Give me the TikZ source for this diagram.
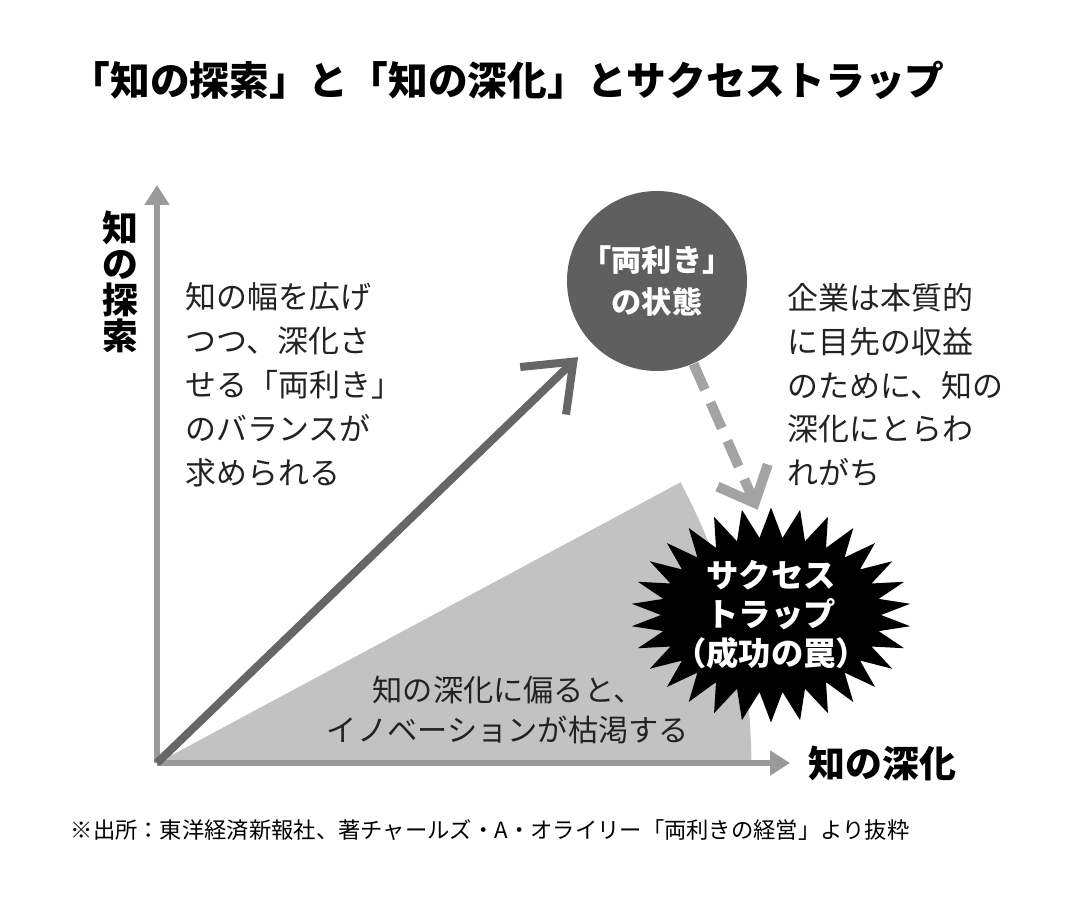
\documentclass[tikz,border=0pt]{standalone}
\usepackage{fontspec}
\newfontfamily\jp{Noto Sans CJK JP}
\usetikzlibrary{arrows.meta,shapes.symbols}
\definecolor{axisgray}{HTML}{9A9A9A}
\definecolor{arrowgray}{HTML}{666666}
\definecolor{ballgray}{HTML}{5F5F5F}
\definecolor{wedgegray}{HTML}{C2C2C2}
\definecolor{dashgray}{HTML}{A3A3A3}
\definecolor{inkgray}{HTML}{222222}
\begin{document}
\begin{tikzpicture}[
  axis/.style={line width=0.06cm, axisgray, -{Triangle[length=0.2cm,width=0.24cm]}},
  body/.style={text=inkgray, inner sep=0pt, font=\jp\fontsize{8.8}{12.5}\selectfont},
]
\useasboundingbox[fill=white] (-1.57,-1.37) rectangle (9.23,7.63);
\coordinate (O) at (0,0);
\coordinate (xend) at (6.33,0);
\coordinate (yend) at (0,5.78);
% shaded area
\fill[wedgegray] (O) -- (28.2:5.94) arc[start angle=28.2, end angle=0, radius=5.97] -- cycle;
\draw[axis] (O) -- (xend);
\draw[axis] (O) -- (yend);
\node[anchor=west, inner sep=0pt, font=\jp\bfseries\fontsize{10.5}{12}\selectfont] (xlab) at (6.51,0) {知の深化};
\node[align=center, inner sep=0pt, font=\jp\bfseries\fontsize{10.2}{10.3}\selectfont] (ylab) at (-0.37,4.81) {知\\の\\探\\索};
% balance
\node[circle, fill=ballgray, minimum size=1.8cm, inner sep=0pt, align=center, text=white,
  font=\jp\bfseries\fontsize{8.6}{11.7}\selectfont] (amb) at (5.00,4.82) {「両利き」\\の状態};
\draw[line width=0.08cm, arrowgray, -{Straight Barb[length=0.42cm,width=0.66cm]}, shorten >=0.19cm] (O) -- (amb);
% trap
\node[starburst, fill=black, starburst points=30, starburst point height=0.3cm, random starburst=0,
  minimum width=2.8cm, minimum height=2.15cm, inner sep=0pt] (trap) at (6.14,1.48) {};
\node[align=center, text=white, inner sep=0pt, font=\jp\bfseries\fontsize{9.2}{11.1}\selectfont] (traptxt) at (trap.center) {サクセス\\トラップ\\（成功の罠）};
\coordinate (trapaim) at (6.47,1.48);
\draw[line width=0.1cm, dashgray, dash pattern=on 0.28cm off 0.14cm, -{Straight Barb[length=0.3cm,width=0.55cm]}, shorten >=1.15cm] (amb) -- (trapaim);
% texts
\node[body, anchor=west, align=left] (explo) at (0.28,3.78) {知の幅を広げ\\つつ、深化さ\\せる「両利き」\\のバランスが\\求められる};
\node[body, anchor=west, align=left] (firm) at (6.30,3.78) {企業は本質的\\に目先の収益\\のために、知の\\深化にとらわ\\れがち};
\node[body, align=center, font=\jp\fontsize{8.6}{11.4}\selectfont] (dry) at (3.51,0.53) {知の深化に偏ると、\\イノベーションが枯渇する};
\node[anchor=west, inner sep=0pt, font=\jp\bfseries\fontsize{11.3}{13}\selectfont] (title) at (-0.87,6.83) {「知の探索」と「知の深化」とサクセストラップ};
\node[anchor=west, inner sep=0pt, font=\jp\fontsize{6.35}{7}\selectfont] (src) at (-0.87,-0.67) {※出所：東洋経済新報社、著チャールズ・A・オライリー「両利きの経営」より抜粋};
\end{tikzpicture}
\end{document}
